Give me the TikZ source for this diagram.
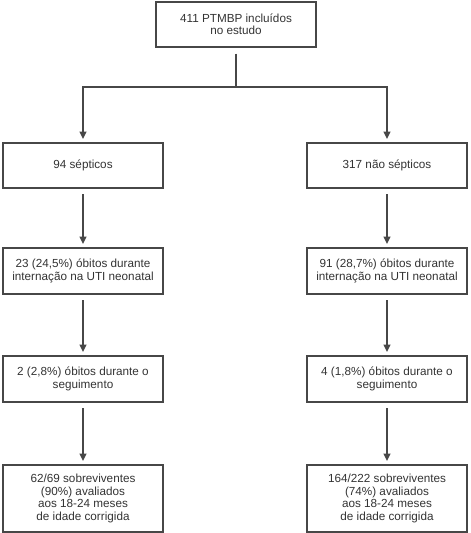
\documentclass[tikz,border=0pt]{standalone}
\usepackage{fontspec}
\setmainfont{Liberation Sans}
\usepackage{tikz}
\usetikzlibrary{arrows.meta}
\tikzset{
	box/.style={draw=black!72, line width=1.2pt, text=black!80, minimum width=4.8cm, minimum height=1.35cm, align=center, inner sep=0pt, font=\fontsize{10}{10.6}\selectfont},
	link/.style={draw=black!72, line width=1.5pt},
	arr/.style={link, -{Triangle[length=2.2mm, width=2mm]}, shorten <=0.16cm, shorten >=0.1cm}
}

\begin{document}
\begin{tikzpicture}[x=0.03cm, y=-0.03cm]
		%%%%% START %%%%%
		\useasboundingbox (0, 0) rectangle (470, 533);
		
		\node[box] (total) at (236, 24.5) {411 PTMBP incluídos\\no estudo};
		\coordinate (split) at (236, 87);
		
		\node[box] (sep) at (83, 165.5) {94 sépticos};
		\node[box] (nsep) at (387, 165.5) {317 não sépticos};
		
		\node[box, minimum height=1.38cm] (uti1) at (83, 271) {23 (24,5\%) óbitos durante\\internação na UTI neonatal};
		\node[box, minimum height=1.38cm] (uti2) at (387, 271) {91 (28,7\%) óbitos durante\\internação na UTI neonatal};
		
		\node[box, minimum height=1.38cm] (seg1) at (83, 379) {2 (2,8\%) óbitos durante o\\seguimento};
		\node[box, minimum height=1.38cm] (seg2) at (387, 379) {4 (1,8\%) óbitos durante o\\seguimento};
		
		\node[box, minimum height=2.01cm] (aval1) at (83, 498.5) {62/69 sobreviventes\\(90\%) avaliados\\aos 18-24 meses\\de idade corrigida};
		\node[box, minimum height=2.01cm] (aval2) at (387, 498.5) {164/222 sobreviventes\\(74\%) avaliados\\aos 18-24 meses\\de idade corrigida};
		
		\draw[link, shorten <=0.18cm] (total) -- (split);
		\draw[arr, shorten <=0pt] (split) -| (sep);
		\draw[arr, shorten <=0pt] (split) -| (nsep);
		
		\draw[arr] (sep) -- (uti1);
		\draw[arr] (nsep) -- (uti2);
		\draw[arr] (uti1) -- (seg1);
		\draw[arr] (uti2) -- (seg2);
		\draw[arr] (seg1) -- (aval1);
		\draw[arr] (seg2) -- (aval2);
		
		%%%%% END %%%%%
	\end{tikzpicture}
\end{document}
